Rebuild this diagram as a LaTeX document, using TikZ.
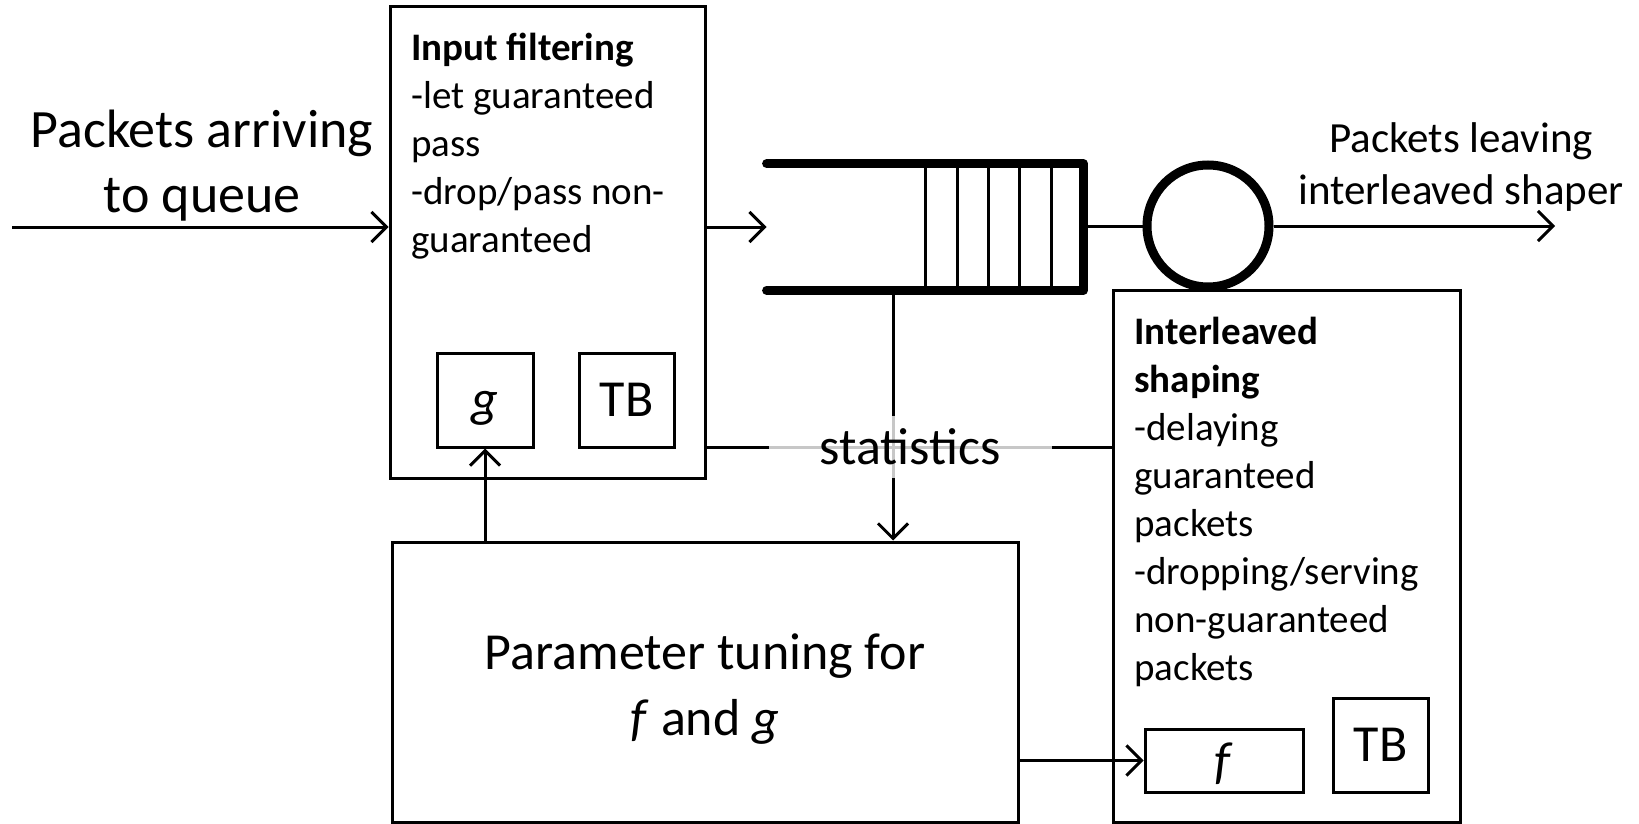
\documentclass[tikz,border=0pt]{standalone}
\usepackage{fontspec}
\setmainfont{Carlito}
\usetikzlibrary{arrows.meta}
\begin{document}
\begin{tikzpicture}[x=0.5pt,y=-0.5pt,
  box/.style={draw, rectangle, line width=1.5pt, inner sep=0pt},
  conn/.style={line width=1.5pt},
  arr/.style={conn, -{Straight Barb[length=7.5pt,width=15pt]}},
  qline/.style={line width=4.5pt, line cap=round, line join=round},
  cell/.style={line width=1.5pt},
  bigtxt/.style={font=\fontsize{26}{33}\selectfont, inner sep=0pt, align=center, anchor=base},
  boxtxt/.style={font=\fontsize{19.5}{24}\selectfont, align=left, inner sep=0pt, anchor=base west},
  smalltxt/.style={font=\fontsize{21.5}{26}\selectfont, align=center, inner sep=0pt, anchor=base},
  arrtxt/.style={font=\fontsize{27}{32.5}\selectfont, align=center, inner sep=0pt, anchor=base},
  stattxt/.style={font=\fontsize{26}{31}\selectfont, fill=white, fill opacity=0.78, text opacity=1,
     inner sep=0pt, minimum width=141.5pt, minimum height=31pt},
]
\useasboundingbox (0,0) rectangle (1639,824);

% boxes
\node[box, minimum width=157.5pt, minimum height=235.5pt] (inbox) at (547.5,242.5) {};
\node[box, minimum width=48pt, minimum height=47pt] (gbox) at (485,400) {};
\node[box, minimum width=47.5pt, minimum height=47pt] (tbone) at (626.5,400) {};
\node[box, minimum width=173.5pt, minimum height=266pt] (shaper) at (1286.5,556) {};
\node[box, minimum width=79pt, minimum height=31.5pt] (fbox) at (1224,760.5) {};
\node[box, minimum width=47.5pt, minimum height=47pt] (tbtwo) at (1380.5,745) {};
\node[box, minimum width=313pt, minimum height=140pt] (param) at (705,682) {};

% queue
\node[rectangle, inner sep=0pt, minimum width=158pt, minimum height=63pt] (queue) at (925,227) {};
\foreach \x in {925,957,988,1019,1051}
  \draw[cell] (\x,164) -- (\x,290);
\draw[qline] (queue.north west) -- (queue.north east) -- (queue.south east) -- (queue.south west);

% server
\node[draw, circle, line width=4.5pt, inner sep=0pt, minimum size=61pt] (server) at (1208,226) {};

% texts (anchor base = baseline of last line)
\node[boxtxt] (intext) at (411,252) {\textbf{Input filtering}\\-let guaranteed\\pass\\-drop/pass non-\\guaranteed};
\node[boxtxt] (shtext) at (1134,680) {\textbf{Interleaved}\\\textbf{shaping}\\-delaying\\guaranteed\\packets\\-dropping/serving\\non-guaranteed\\packets};
\node[bigtxt] (gtext) at (485,416) {\textit{g}};
\node[bigtxt] (tbonetext) at (626.5,416.5) {TB};
\node[bigtxt] (tbtwotext) at (1380.5,761.5) {TB};
\node[bigtxt] (ftext) at (1224,778) {\textit{f}};
\node[bigtxt] (paramtext) at (705,735) {Parameter tuning for\\\textit{f} and \textit{g}};
\node[arrtxt] (arrive) at (202,213) {Packets arriving\\to queue};
\node[smalltxt] (leave) at (1461,205) {Packets leaving\\interleaved shaper};

% connectors
\coordinate (src) at (12,227);
\coordinate (out) at (1555,226);
\coordinate (qs) at (893,290);
\coordinate (sy) at (0,447);
\draw[arr] (src) -- (src -| inbox.west);
\draw[arr] (inbox.east |- queue.west) -- (queue.west);
\draw[conn] (queue.east |- server.west) -- (server.west);
\draw[arr] (server.east) -- (out);
\draw[conn] (inbox.east |- sy) -- (shaper.west |- sy);
\draw[arr] (qs) -- (qs |- param.north);
\draw[arr] (gbox.south |- param.north) -- (gbox.south);
\draw[arr] (param.east |- fbox.west) -- (fbox.west);

\node[stattxt] (stat) at (910,447) {statistics};
\end{tikzpicture}
\end{document}
